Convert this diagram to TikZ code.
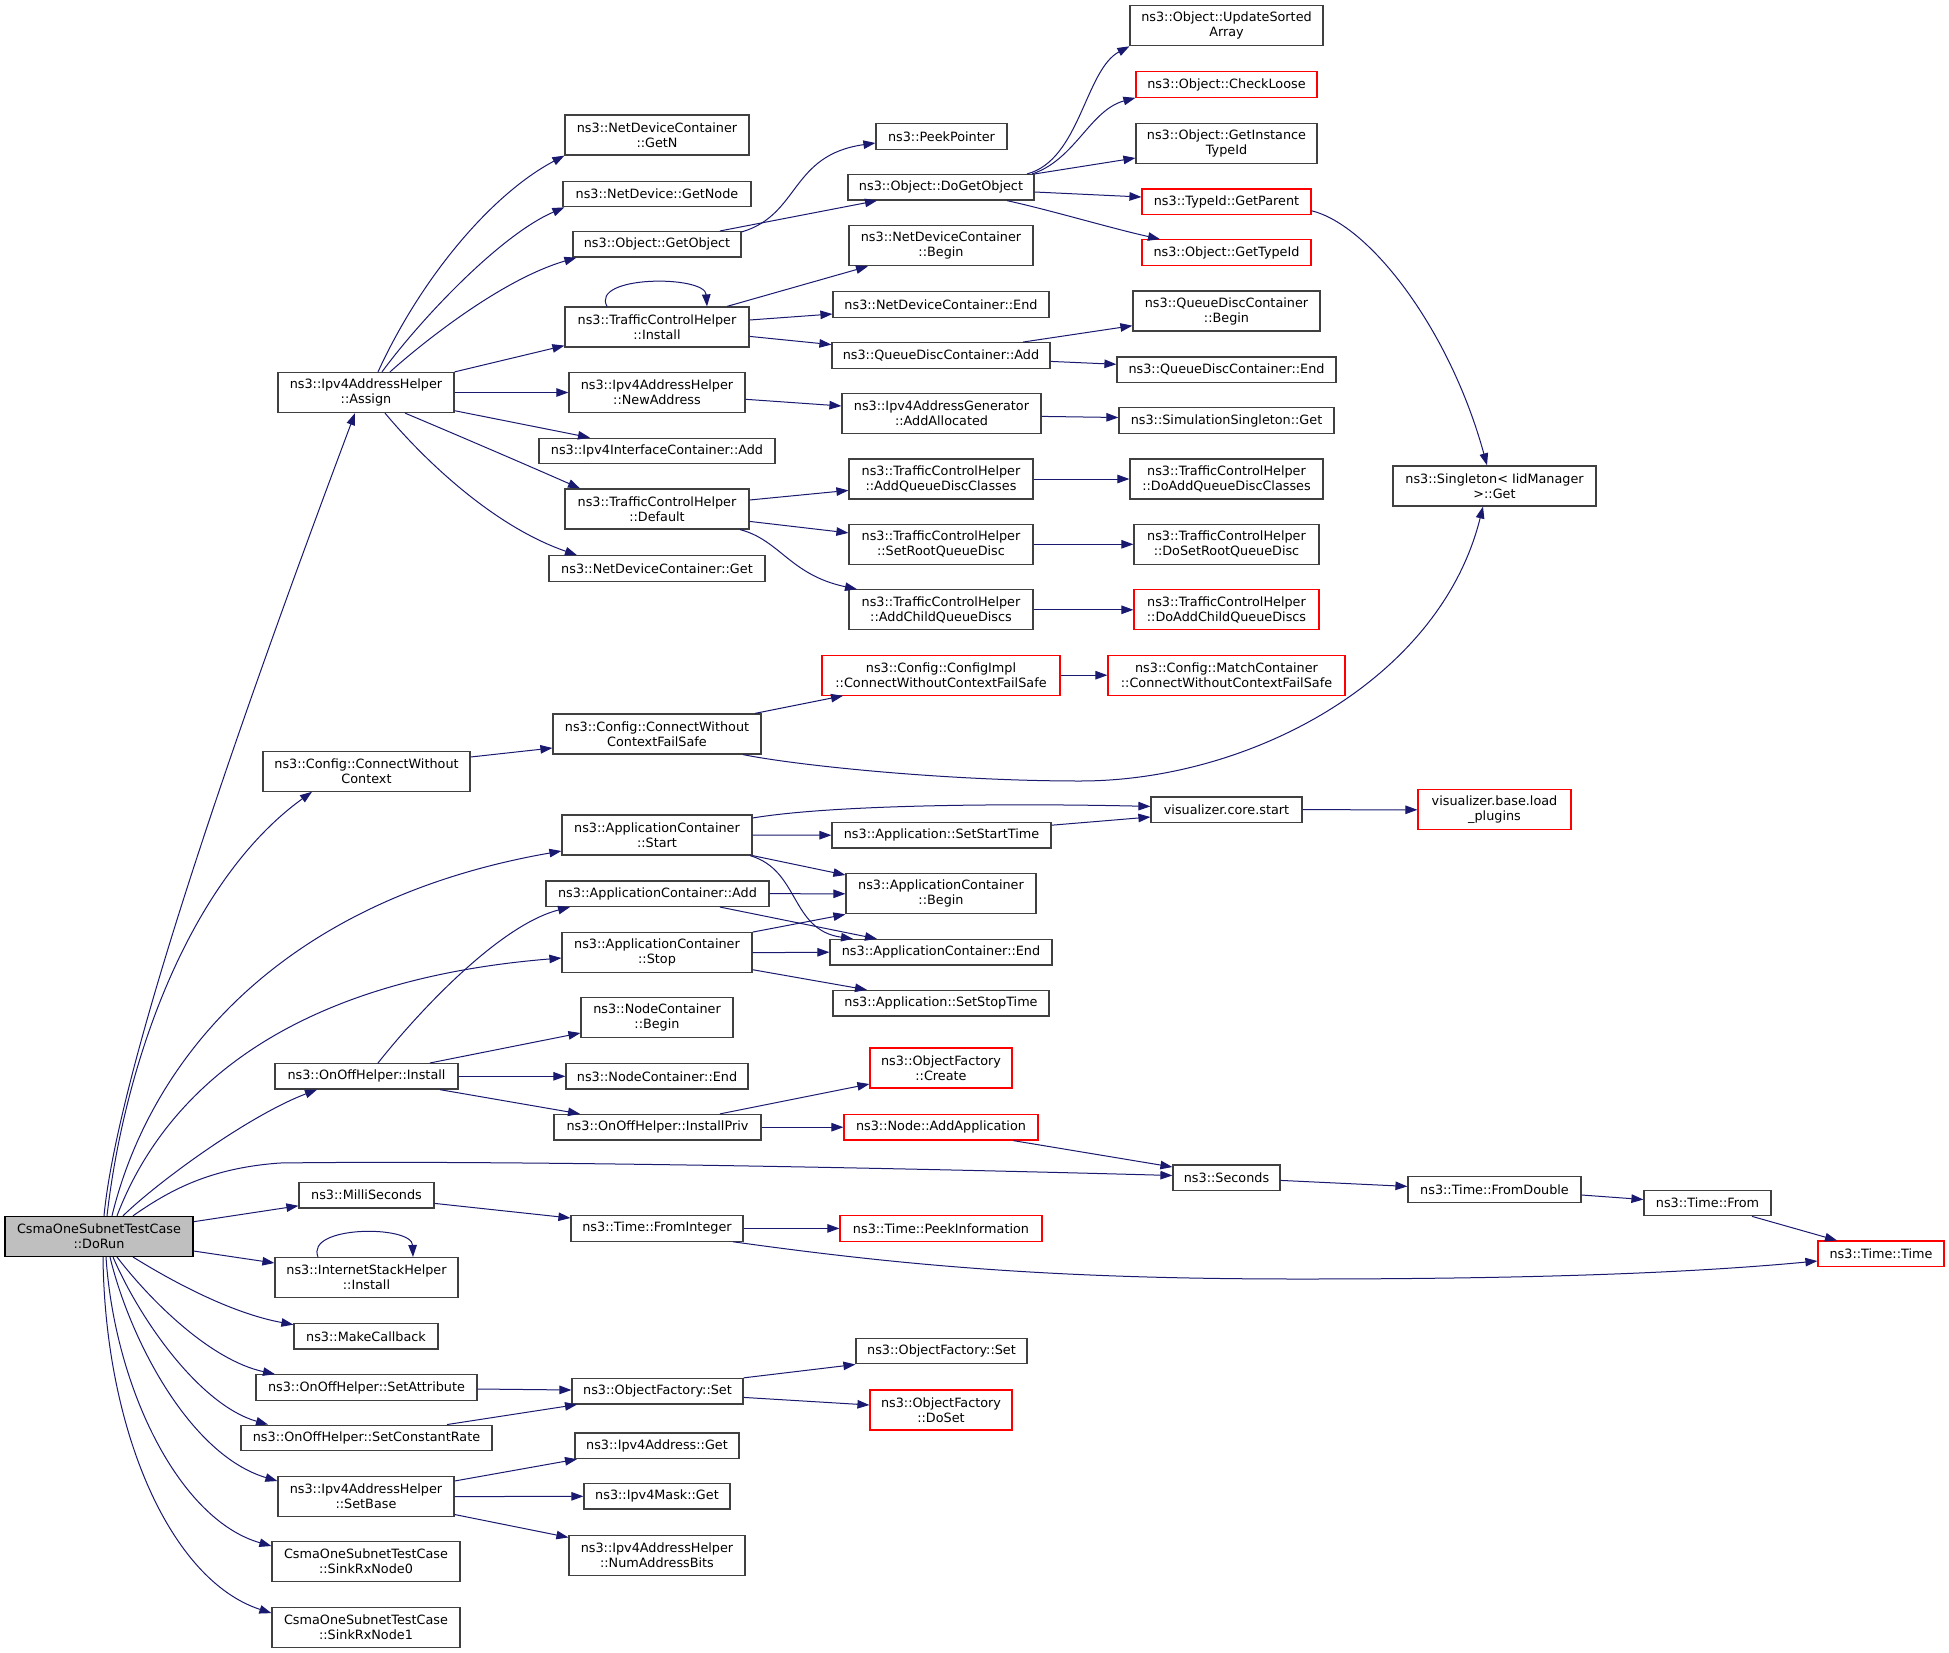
\documentclass[tikz,border=0pt]{standalone}
\usepackage{fontspec}
\setmainfont{DejaVu Sans}
\usetikzlibrary{arrows.meta}
\definecolor{edgeblue}{HTML}{191970}
\definecolor{boxgray}{HTML}{404040}
\definecolor{boxred}{HTML}{FF0000}
\definecolor{rootgray}{HTML}{BFBFBF}
\newcommand\nodefont{\fontsize{12.8bp}{15bp}\selectfont}
\newcommand\gnode[7][]{\node[box,#1,minimum width=#5bp,minimum height=#6bp] (#2) at (#3,#4) {#7};}
\begin{document}
\begin{tikzpicture}[x=1bp,y=-1bp,
  box/.style={draw=boxgray,line width=1.2bp,fill=white,inner sep=0pt,align=center,font=\nodefont,text=black},
  redbox/.style={draw=boxred},
  rootbox/.style={fill=rootgray,draw=black},
  e/.style={draw=edgeblue,line width=1bp,-{Triangle[length=12bp,width=8.5bp]}}]
\useasboundingbox[fill=white] (0,0) rectangle (1949,1653);
% left
\gnode[rootbox]{dorun}{99}{1236.4}{188}{40}{CsmaOneSubnetTestCase\\::DoRun}
\gnode{assign}{366}{392.5}{176}{40}{ns3::Ipv4AddressHelper\\::Assign}
\gnode{cwc}{366.5}{771.2}{207}{40}{ns3::Config::ConnectWithout\\Context}
\gnode{onoffinstall}{366.5}{1076.3}{183}{25.5}{ns3::OnOffHelper::Install}
\gnode{millis}{366.5}{1195.2}{135}{25.5}{ns3::MilliSeconds}
\gnode{ishinstall}{366.5}{1277.6}{183}{40}{ns3::InternetStackHelper\\::Install}
\gnode{makecb}{366}{1336.3}{144}{25.5}{ns3::MakeCallback}
\gnode{setattr}{366.5}{1387.5}{221}{25.5}{ns3::OnOffHelper::SetAttribute}
\gnode{setrate}{366.5}{1437.9}{251}{25.5}{ns3::OnOffHelper::SetConstantRate}
\gnode{setbase}{366}{1496.6}{176}{40}{ns3::Ipv4AddressHelper\\::SetBase}
\gnode{sink0}{366}{1561.5}{188}{40}{CsmaOneSubnetTestCase\\::SinkRxNode0}
\gnode{sink1}{366}{1627.1}{188}{40}{CsmaOneSubnetTestCase\\::SinkRxNode1}
% column 2
\gnode{getn}{657}{135}{184}{40}{ns3::NetDeviceContainer\\::GetN}
\gnode{getnode}{657}{194}{188}{25.5}{ns3::NetDevice::GetNode}
\gnode{getobject}{657}{244.3}{168}{25.5}{ns3::Object::GetObject}
\gnode{tchinstall}{657}{327}{184}{40}{ns3::TrafficControlHelper\\::Install}
\gnode{newaddr}{657}{392.5}{176}{40}{ns3::Ipv4AddressHelper\\::NewAddress}
\gnode{ifcadd}{657}{451}{236}{25.5}{ns3::Ipv4InterfaceContainer::Add}
\gnode{tchdefault}{657}{509}{184}{40}{ns3::TrafficControlHelper\\::Default}
\gnode{ndcget}{657}{568.5}{216}{25.5}{ns3::NetDeviceContainer::Get}
\gnode{cwcfs}{657}{734}{208}{40}{ns3::Config::ConnectWithout\\ContextFailSafe}
\gnode{appstart}{657}{835}{190}{40}{ns3::ApplicationContainer\\::Start}
\gnode{appadd}{657.5}{893.7}{223}{25.5}{ns3::ApplicationContainer::Add}
\gnode{appstop}{657}{952.7}{190}{40}{ns3::ApplicationContainer\\::Stop}
\gnode{ncbegin}{657}{1017.7}{152}{40}{ns3::NodeContainer\\::Begin}
\gnode{ncend}{657}{1076.3}{182}{25.5}{ns3::NodeContainer::End}
\gnode{installpriv}{657.5}{1127.2}{207}{25.5}{ns3::OnOffHelper::InstallPriv}
\gnode{frominteger}{657}{1228.4}{172}{25.5}{ns3::Time::FromInteger}
\gnode{ofset}{657.5}{1391.2}{171}{25.5}{ns3::ObjectFactory::Set}
\gnode{v4get}{657}{1445.8}{164}{25.5}{ns3::Ipv4Address::Get}
\gnode{maskget}{657}{1496.3}{146}{25.5}{ns3::Ipv4Mask::Get}
\gnode{numbits}{657}{1555.2}{176}{40}{ns3::Ipv4AddressHelper\\::NumAddressBits}
% column 3
\gnode{peekptr}{941.5}{136.5}{131}{25.5}{ns3::PeekPointer}
\gnode{dogetobj}{941}{187.3}{186}{25.5}{ns3::Object::DoGetObject}
\gnode{ndcbegin}{941}{245.7}{184}{40}{ns3::NetDeviceContainer\\::Begin}
\gnode{ndcend}{941}{304.5}{216}{25.5}{ns3::NetDeviceContainer::End}
\gnode{qdcadd}{941}{355.4}{218}{25.5}{ns3::QueueDiscContainer::Add}
\gnode{addalloc}{941.5}{413.6}{199}{40}{ns3::Ipv4AddressGenerator\\::AddAllocated}
\gnode{addqdc}{941}{479}{184}{40}{ns3::TrafficControlHelper\\::AddQueueDiscClasses}
\gnode{setroot}{941}{544.3}{184}{40}{ns3::TrafficControlHelper\\::SetRootQueueDisc}
\gnode{addchild}{941}{609.8}{184}{40}{ns3::TrafficControlHelper\\::AddChildQueueDiscs}
\gnode[redbox]{configimpl}{941}{675.2}{238}{40}{ns3::Config::ConfigImpl\\::ConnectWithoutContextFailSafe}
\gnode{setstart}{941.5}{835.2}{219}{25.5}{ns3::Application::SetStartTime}
\gnode{appbegin}{941}{893.8}{190}{40}{ns3::ApplicationContainer\\::Begin}
\gnode{append}{941}{952.2}{222}{25.5}{ns3::ApplicationContainer::End}
\gnode{setstop}{941}{1003.2}{216}{25.5}{ns3::Application::SetStopTime}
\gnode[redbox]{ofcreate}{941}{1068}{142}{40}{ns3::ObjectFactory\\::Create}
\gnode[redbox]{addapp}{941}{1127.2}{194}{25.5}{ns3::Node::AddApplication}
\gnode[redbox]{peekinfo}{941}{1228.4}{202}{25.5}{ns3::Time::PeekInformation}
\gnode{ofset2}{941.5}{1351.1}{171}{25.5}{ns3::ObjectFactory::Set}
\gnode[redbox]{doset}{941}{1410}{142}{40}{ns3::ObjectFactory\\::DoSet}
% column 4
\gnode{updsorted}{1226.5}{25.7}{193}{40}{ns3::Object::UpdateSorted\\Array}
\gnode[redbox]{checkloose}{1226.5}{84.5}{181}{25.5}{ns3::Object::CheckLoose}
\gnode{getinst}{1226.5}{143.2}{181}{40}{ns3::Object::GetInstance\\TypeId}
\gnode[redbox]{getparent}{1226.5}{201.8}{169}{25.5}{ns3::TypeId::GetParent}
\gnode[redbox]{gettypeid}{1226.5}{252.5}{169}{25.5}{ns3::Object::GetTypeId}
\gnode{qdcbegin}{1226.5}{311}{187}{40}{ns3::QueueDiscContainer\\::Begin}
\gnode{qdcend}{1226.5}{369.7}{219}{25.5}{ns3::QueueDiscContainer::End}
\gnode{simsingle}{1226.5}{420.5}{215}{25.5}{ns3::SimulationSingleton::Get}
\gnode{doaddqdc}{1226.5}{479}{193}{40}{ns3::TrafficControlHelper\\::DoAddQueueDiscClasses}
\gnode{dosetroot}{1226.5}{544.3}{185}{40}{ns3::TrafficControlHelper\\::DoSetRootQueueDisc}
\gnode[redbox]{doaddchild}{1226.5}{609.8}{185}{40}{ns3::TrafficControlHelper\\::DoAddChildQueueDiscs}
\gnode[redbox]{matchc}{1226.5}{675.2}{237}{40}{ns3::Config::MatchContainer\\::ConnectWithoutContextFailSafe}
\gnode{vizstart}{1226.5}{809.7}{151}{25.5}{visualizer.core.start}
\gnode{seconds}{1226.5}{1177.8}{107}{25.5}{ns3::Seconds}
% columns 5+
\gnode{singleton}{1494.5}{485.9}{203}{40}{ns3::Singleton< IidManager\\ >::Get}
\gnode[redbox]{loadplugins}{1494.5}{809.8}{153}{40}{visualizer.base.load\\\_plugins}
\gnode{fromdouble}{1494.5}{1189.5}{173}{25.5}{ns3::Time::FromDouble}
\gnode{timefrom}{1707.5}{1203}{127}{25.5}{ns3::Time::From}
\gnode[redbox]{timetime}{1881}{1253.8}{126}{25.5}{ns3::Time::Time}
% ---------- edges from DoRun
\draw[e] ([xshift=5bp]dorun.north) .. controls (120,1050) and (270,640) .. ([xshift=-11bp]assign.south);
\draw[e] ([xshift=8bp]dorun.north) .. controls (125,1060) and (190,880) .. ([xshift=-54.5bp]cwc.south);
\draw[e] ([xshift=13bp]dorun.north) .. controls (150,1060) and (280,900) .. ([yshift=-16bp]appstart.west);
\draw[e] ([xshift=18bp]dorun.north) .. controls (165,1090) and (290,980) .. ([yshift=-5.3bp]appstop.west);
\draw[e] ([xshift=24bp]dorun.north) .. controls (160,1180) and (250,1115) .. ([xshift=-49.5bp]onoffinstall.south);
\draw[e] ([xshift=34bp]dorun.north) .. controls (170,1190) and (210,1168) .. (280,1163) .. controls (500,1160) and (900,1168) .. ([yshift=2.3bp]seconds.west);
\draw[e] ([yshift=14.7bp]dorun.east) -- ([yshift=-10.6bp]millis.west);
\draw[e] ([yshift=-14.6bp]dorun.east) -- ([yshift=14.6bp]ishinstall.west);
\draw[e] ([xshift=34bp]dorun.south) .. controls (170,1280) and (230,1313) .. ([yshift=-1.7bp]makecb.north west);
\draw[e] ([xshift=18bp]dorun.south) .. controls (150,1300) and (210,1360) .. ([xshift=-91.5bp]setattr.north);
\draw[e] ([xshift=14bp]dorun.south) .. controls (140,1320) and (200,1405) .. ([xshift=-98.5bp]setrate.north);
\draw[e] ([xshift=11bp]dorun.south) .. controls (130,1340) and (190,1455) .. ([yshift=15.6bp]setbase.west);
\draw[e] ([xshift=7bp]dorun.south) .. controls (115,1390) and (180,1520) .. ([yshift=15.5bp]sink0.west);
\draw[e] ([xshift=4bp]dorun.south) .. controls (105,1430) and (170,1580) .. ([yshift=14bp]sink1.west);
% ---------- Assign
\draw[e] ([xshift=12bp]assign.north) .. controls (420,280) and (490,195) .. (getn.south west);
\draw[e] ([xshift=16bp]assign.north) .. controls (420,320) and (500,235) .. ([xshift=2bp]getnode.south west);
\draw[e] ([xshift=24bp]assign.north) .. controls (420,345) and (500,280) .. ([xshift=4bp]getobject.south west);
\draw[e] (assign.north east) -- ([yshift=2bp]tchinstall.south west);
\draw[e] (assign.east) -- (newaddr.west);
\draw[e] ([yshift=-18.2bp]assign.east) -- ([xshift=-67bp]ifcadd.north);
\draw[e] ([xshift=39bp]assign.south) .. controls (450,432) and (520,462) .. ([xshift=-77bp]tchdefault.north);
\draw[e] ([xshift=19bp]assign.south) .. controls (420,455) and (490,525) .. ([xshift=-80bp]ndcget.north);
% ---------- GetObject / DoGetObject
\draw[e] ([yshift=-1bp]getobject.north east) .. controls (800,215) and (790,155) .. ([yshift=-6.5bp]peekptr.west);
\draw[e] ([xshift=63bp]getobject.north) -- ([xshift=-64bp]dogetobj.south);
\draw[e] ([xshift=86bp]dogetobj.north) .. controls (1080,160) and (1085,70) .. (updsorted.south west);
\draw[e] ([xshift=91bp]dogetobj.north) .. controls (1075,160) and (1090,110) .. (checkloose.south west);
\draw[e] (dogetobj.north east) -- ([yshift=-14.8bp]getinst.west);
\draw[e] ([yshift=-4.7bp]dogetobj.east) -- ([yshift=4.8bp]getparent.west);
\draw[e] ([xshift=66bp]dogetobj.south) .. controls (1050,210) and (1110,228) .. ([xshift=-66.5bp]gettypeid.north);
\draw[e] ([yshift=-9bp]getparent.east) .. controls (1370,225) and (1450,330) .. ([xshift=-7.5bp]singleton.north);
% ---------- TrafficControlHelper::Install
\draw[e] ([xshift=-50bp]tchinstall.north) .. controls (590,275) and (705,275) .. ([xshift=50bp]tchinstall.north);
\draw[e] ([xshift=70bp]tchinstall.north) -- ([xshift=-73bp]ndcbegin.south);
\draw[e] ([yshift=7bp]tchinstall.east) -- ([yshift=-9.5bp]ndcend.west);
\draw[e] ([yshift=-9.4bp]tchinstall.east) -- ([yshift=10.8bp]qdcadd.west);
\draw[e] ([xshift=82bp]qdcadd.north) -- ([yshift=-14.7bp]qdcbegin.west);
\draw[e] ([yshift=-6bp]qdcadd.east) -- ([yshift=5.4bp]qdcend.west);
\draw[e] ([yshift=-6.8bp]newaddr.east) -- ([yshift=7.6bp]addalloc.west);
\draw[e] ([yshift=-2.8bp]addalloc.east) -- ([yshift=3bp]simsingle.west);
% ---------- Default
\draw[e] ([yshift=9bp]tchdefault.east) -- ([yshift=-11.4bp]addqdc.west);
\draw[e] ([yshift=-12.4bp]tchdefault.east) -- ([yshift=11.4bp]setroot.west);
\draw[e] ([xshift=83bp]tchdefault.south) .. controls (780,540) and (790,575) .. ([xshift=-84bp]addchild.north);
\draw[e] (addqdc.east) -- (doaddqdc.west);
\draw[e] (setroot.east) -- (dosetroot.west);
\draw[e] (addchild.east) -- (doaddchild.west);
% ---------- Config
\draw[e] ([yshift=14.2bp]cwc.east) -- ([yshift=-14bp]cwcfs.west);
\draw[e] ([xshift=98bp]cwcfs.north) -- ([xshift=-98bp]configimpl.south);
\draw[e] ([xshift=86bp]cwcfs.south) .. controls (800,766) and (950,781) .. (1080,781) .. controls (1250,781) and (1440,680) .. ([xshift=-11.5bp]singleton.south);
\draw[e] (configimpl.east) -- (matchc.west);
% ---------- Applications
\draw[e] ([yshift=17bp]appstart.east) .. controls (830,805) and (1000,803) .. ([yshift=3.3bp]vizstart.west);
\draw[e] (appstart.east) -- (setstart.west);
\draw[e] (appstart.south east) -- ([yshift=18.8bp]appbegin.west);
\draw[e] ([xshift=93bp]appstart.south) .. controls (800,870) and (790,930) .. ([xshift=-88bp]append.north);
\draw[e] ([yshift=10bp]setstart.east) -- ([yshift=-7.3bp]vizstart.west);
\draw[e] (vizstart.east) -- (loadplugins.west);
\draw[e] (appadd.east) -- (appbegin.west);
\draw[e] ([xshift=62.5bp]appadd.south) -- ([xshift=-64bp]append.north);
\draw[e] (appstop.north east) -- (appbegin.south west);
\draw[e] (appstop.east) -- (append.west);
\draw[e] ([yshift=-17bp]appstop.east) -- ([xshift=-74bp]setstop.north);
% ---------- OnOff install
\draw[e] ([xshift=11.5bp]onoffinstall.north) .. controls (420,1010) and (500,925) .. ([xshift=-87.5bp]appadd.south);
\draw[e] ([xshift=63.5bp]onoffinstall.north) -- ([yshift=-15.3bp]ncbegin.west);
\draw[e] (onoffinstall.east) -- (ncend.west);
\draw[e] ([xshift=73.5bp]onoffinstall.south) -- ([xshift=-77.5bp]installpriv.north);
\draw[e] ([xshift=62.5bp]installpriv.north) -- ([yshift=-16bp]ofcreate.west);
\draw[e] (installpriv.east) -- (addapp.west);
\draw[e] ([xshift=72bp]addapp.south) -- ([yshift=10.8bp]seconds.west);
\draw[e] ([yshift=-2.6bp]seconds.east) -- ([yshift=3.1bp]fromdouble.west);
\draw[e] ([yshift=-5.5bp]fromdouble.east) -- ([yshift=3.5bp]timefrom.west);
\draw[e] ([xshift=44.5bp]timefrom.south) -- ([xshift=-44bp]timetime.north);
% ---------- time
\draw[e] ([yshift=-8.2bp]millis.east) -- ([yshift=10.4bp]frominteger.west);
\draw[e] (frominteger.east) -- (peekinfo.west);
\draw[e] ([xshift=76bp]frominteger.south) .. controls (900,1265) and (1050,1279) .. (1300,1279) .. controls (1550,1279) and (1700,1272) .. ([yshift=-7.2bp]timetime.west);
\draw[e] ([xshift=-48.5bp]ishinstall.north) .. controls (305,1225) and (412,1225) .. ([xshift=46.5bp]ishinstall.north);
% ---------- ObjectFactory
\draw[e] ([yshift=-1.5bp]setattr.east) -- ([yshift=1.2bp]ofset.west);
\draw[e] ([xshift=80.5bp]setrate.north) -- ([xshift=-80.5bp]ofset.south);
\draw[e] (ofset.north east) -- (ofset2.south west);
\draw[e] ([yshift=-6.2bp]ofset.east) -- ([yshift=5bp]doset.west);
% ---------- SetBase
\draw[e] ([yshift=15.6bp]setbase.east) -- ([xshift=-80bp]v4get.south);
\draw[e] (setbase.east) -- (maskget.west);
\draw[e] ([yshift=-17.9bp]setbase.east) -- ([yshift=17.8bp]numbits.west);
\end{tikzpicture}
\end{document}
